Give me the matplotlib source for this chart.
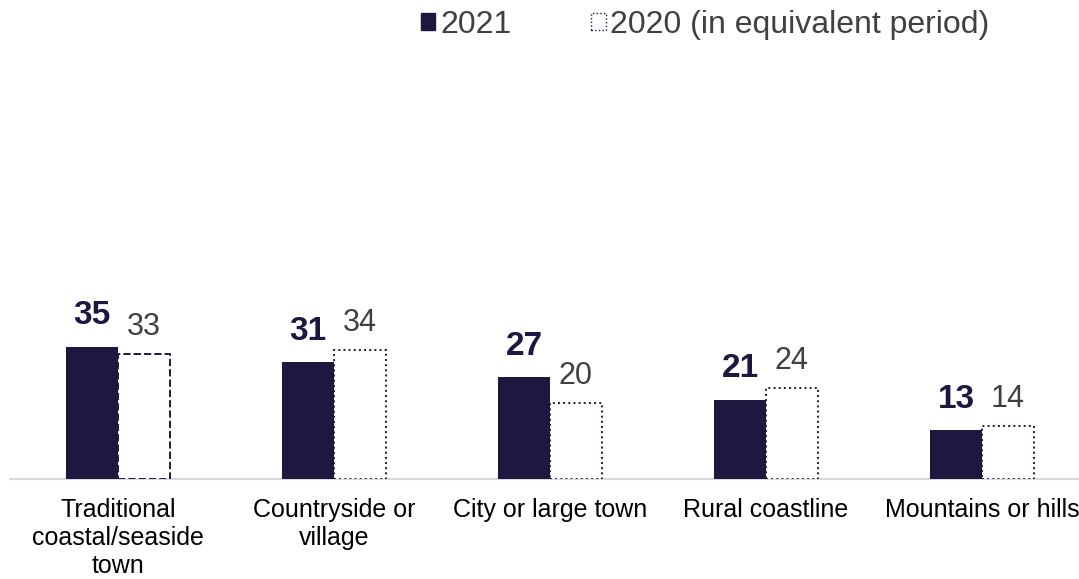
import numpy as np
import matplotlib.pyplot as plt
from matplotlib.patches import Patch

plt.rcParams['font.family'] = ['Liberation Sans', 'DejaVu Sans']

# data
categories = ["Traditional\ncoastal/seaside\ntown", "Countryside or\nvillage",
              "City or large town", "Rural coastline", "Mountains or hills"]
vals_2021 = [35, 31, 27, 21, 13]
vals_2020 = [33, 34, 20, 24, 14]
edge_styles = ["--", ":", ":", ":", ":"]

navy = "#1f1740"
grey_txt = "#404040"

W, H = 1079, 579
fig = plt.figure(figsize=(W / 100, H / 100), dpi=100)
ax = fig.add_axes([10 / W, 100 / H, 1080 / W, 378 / H])

x = np.arange(len(categories))
bw = 0.24

ax.bar(x - bw / 2, vals_2021, bw, color=navy, zorder=2)
for xi, v, ls in zip(x, vals_2020, edge_styles):
    ax.bar(xi + bw / 2, v, bw, facecolor="white", edgecolor=navy,
           linestyle=ls, linewidth=1.4, zorder=2)

for xi, v in zip(x, vals_2021):
    ax.annotate(str(v), (xi - bw / 2, v), xytext=(0, 16), textcoords="offset points",
                ha="center", va="baseline", fontsize=24, fontweight="bold", color=navy)
for xi, v in zip(x, vals_2020):
    ax.annotate(str(v), (xi + bw / 2, v), xytext=(0, 14), textcoords="offset points",
                ha="center", va="baseline", fontsize=22, color=grey_txt)

ax.set_xlim(-0.5, len(categories) - 0.5)
ax.set_ylim(0, 100)
ax.set_xticks(x)
ax.set_xticklabels(categories, fontsize=18, color="black", linespacing=1.2)
ax.tick_params(axis="x", length=0, pad=14)
ax.set_yticks([])
for s in ["top", "right", "left"]:
    ax.spines[s].set_visible(False)
ax.spines["bottom"].set_color("#d9d9d9")
ax.spines["bottom"].set_linewidth(1.5)
ax.spines["bottom"].set_zorder(1)

handles = [Patch(facecolor=navy, edgecolor=navy),
           Patch(facecolor="white", edgecolor=navy, linestyle=":", linewidth=1)]
fig.legend(handles, ["2021", "2020 (in equivalent period)"], ncol=2, frameon=False,
           loc="center left", bbox_to_anchor=(421 / W, 1 - 25 / H), fontsize=23,
           handlelength=0.45, handleheight=0.45, handletextpad=0.15,
           columnspacing=2.5, labelcolor=grey_txt, borderpad=0, borderaxespad=0)

fig.savefig("out.png", dpi=100)
